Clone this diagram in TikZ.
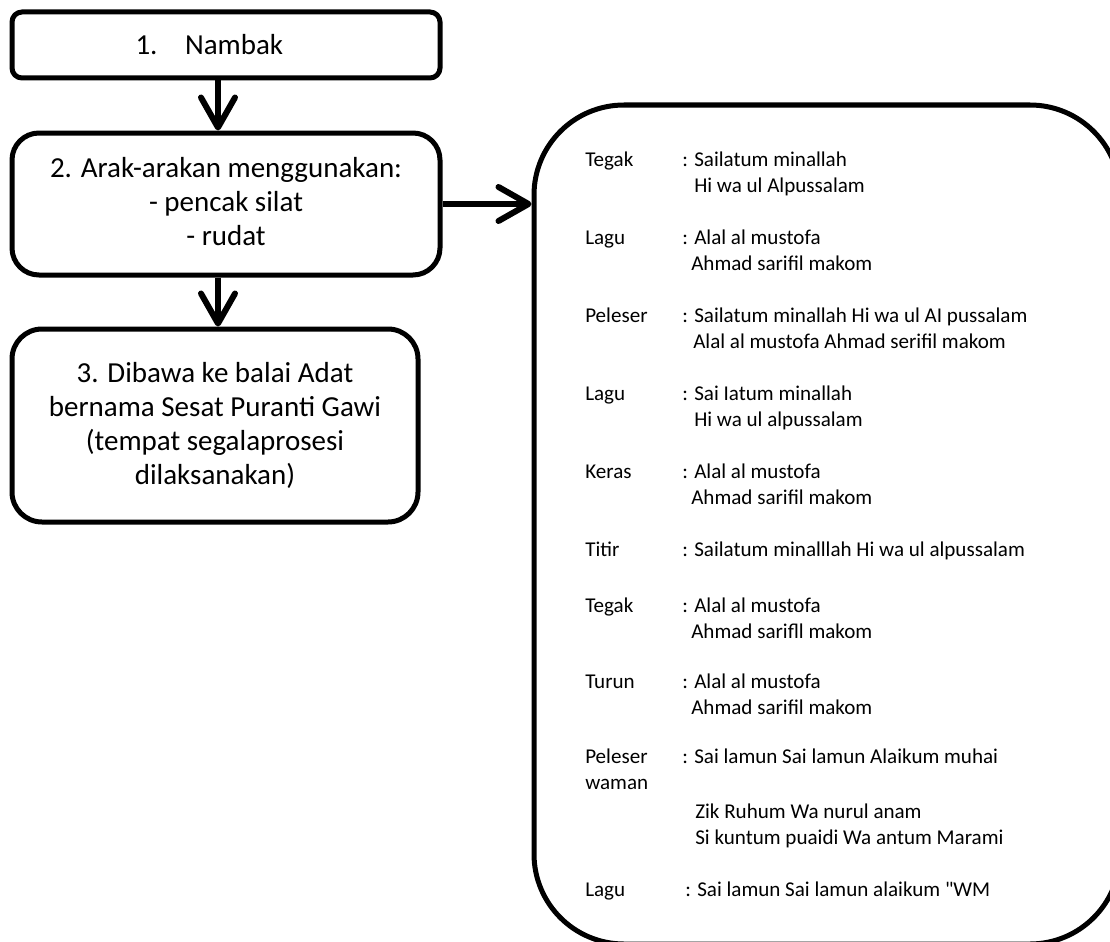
\documentclass[tikz,border=0pt]{standalone}
\usepackage{fontspec}
\setmainfont{Carlito}
\newfontfamily\plainfont{Carlito}
\usetikzlibrary{arrows.meta}
\begin{document}
\begin{tikzpicture}[x=0.75pt,y=-0.75pt,
  box/.style={draw,line width=3.75pt,align=center,inner sep=0pt,
    font=\fontsize{21.75pt}{25.5pt}\selectfont},
  arr/.style={line width=4.5pt,-{Straight Barb[length=22.5pt,width=25.5pt,line cap=round,line join=round]}},
  lab/.style={anchor=base west,inner sep=0pt,font=\fontsize{15.8pt}{19.5pt}\selectfont}]
\useasboundingbox (0,0) rectangle (1110,942);
% left boxes
\node[box,rounded corners=7.5pt,minimum width=321pt,minimum height=49.5pt] (b1) at (226,45)
  {1.\hspace{0.95em}Nambak\hspace*{25pt}};
\node[box,rounded corners=20.25pt,minimum width=321pt,minimum height=106.5pt] (b2) at (226,204)
  {2. Arak-arakan menggunakan:\\- pencak silat\\- rudat\\[-22pt]\mbox{}};
\node[box,rounded corners=22.5pt,minimum width=304.5pt,minimum height=144.75pt] (b3) at (215,425.5)
  {3. Dibawa ke balai Adat\\bernama Sesat Puranti Gawi\\(tempat segalaprosesi\\dilaksanakan)};
% right box
\node[draw,line width=3.75pt,rounded corners=67.5pt,minimum width=439.5pt,minimum height=629.25pt] (rb) at (827,524.5) {};
% arrows
\coordinate (ax) at (218,0);
\draw[arr] (b1.south -| ax) -- (b2.north -| ax);
\draw[arr] (b2.south -| ax) -- (b3.north -| ax);
\coordinate (ay) at (0,204);
\draw[arr] (b2.east |- ay) -- (rb.west |- ay);
% right text
\node[lab] (l1) at (585,166) {Tegak};
\node[lab] (v1) at (682,166) {: Sailatum minallah};
\node[lab] (w1) at (694,192) {Hi wa ul Alpussalam};
\node[lab] (l2) at (585,244) {Lagu};
\node[lab] (v2) at (682,244) {: Alal al mustofa};
\node[lab] (w2) at (691,270) {Ahmad sarifil makom};
\node[lab] (l3) at (585,322) {Peleser};
\node[lab] (v3) at (682,322) {: Sailatum minallah Hi wa ul AI pussalam};
\node[lab] (w3) at (693,348) {Alal al mustofa Ahmad serifil makom};
\node[lab] (l4) at (585,400) {Lagu};
\node[lab] (v4) at (682,400) {: Sai Iatum minallah};
\node[lab] (w4) at (694,426) {Hi wa ul alpussalam};
\node[lab] (l5) at (585,478) {Keras};
\node[lab] (v5) at (682,478) {: Alal al mustofa};
\node[lab] (w5) at (691,504) {Ahmad sarifil makom};
\node[lab] (l6) at (585,556) {Titir};
\node[lab] (v6) at (682,556) {: Sailatum minalllah Hi wa ul alpussalam};
\node[lab] (l7) at (585,612) {Tegak};
\node[lab] (v7) at (682,612) {: Alal al mustofa};
\node[lab] (w7) at (691,638) {Ahmad sarifll makom};
\node[lab] (l8) at (585,688) {Turun};
\node[lab] (v8) at (682,688) {: Alal al mustofa};
\node[lab] (w8) at (691,714) {Ahmad sarifil makom};
\node[lab] (l9) at (585,763) {Peleser};
\node[lab] (l9b) at (585,789) {waman};
\node[lab] (v9) at (682,763) {: Sai lamun Sai lamun Alaikum muhai};
\node[lab] (w9) at (695,818) {Zik Ruhum Wa nurul anam};
\node[lab] (x9) at (695,844) {Si kuntum puaidi Wa antum Marami};
\node[lab] (l10) at (585,896) {Lagu};
\node[lab] (v10) at (685,896) {: Sai lamun Sai lamun alaikum {\plainfont"}WM};
\end{tikzpicture}
\end{document}
